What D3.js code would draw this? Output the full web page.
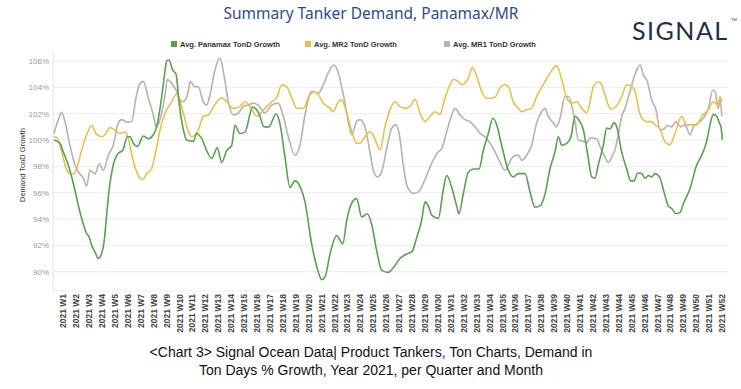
<!DOCTYPE html>
<html>
<head>
<meta charset="utf-8">
<script src="https://cdn.jsdelivr.net/npm/d3@7"></script>
<style>
  body { margin: 0; background: #fff; }
  svg { display: block; }
</style>
</head>
<body>
<div id="chart"></div>
<script>

// week labels along the bottom
var weeks = d3.range(1, 53).map(function(w) { return "2021 W" + w; });
var yTicks = [90, 92, 94, 96, 98, 100, 102, 104, 106];

// [week position, % growth]
var panamax = [[0.30,100.0],[0.77,99.75],[1.02,99.1],[1.41,98.1],[1.80,96.7],[2.32,94.5],[2.83,92.9],[3.04,92.6],[3.22,92.0],[3.48,91.5],[3.73,91.0],[3.92,91.2],[4.17,92.2],[4.38,94.3],[4.58,96.3],[4.89,98.1],[5.28,99.0],[5.62,99.2],[5.98,100.25],[6.19,100.25],[6.44,99.75],[6.75,99.5],[7.22,100.3],[7.60,100.1],[7.99,100.4],[8.25,101.0],[8.51,102.4],[8.76,104.2],[9.03,106.0],[9.20,106.1],[9.49,105.3],[9.75,105.0],[10.00,102.7],[10.31,100.8],[10.57,100.0],[11.09,99.9],[11.35,100.5],[11.74,100.1],[12.12,99.2],[12.51,98.6],[12.94,99.4],[13.28,98.3],[13.67,99.2],[14.06,99.6],[14.31,101.1],[14.70,100.5],[15.09,100.6],[15.67,102.5],[16.17,102.0],[16.56,101.0],[16.94,101.0],[17.49,102.0],[17.80,101.2],[18.18,98.7],[18.57,96.4],[18.96,96.9],[19.42,96.3],[19.73,95.3],[20.25,92.1],[20.64,90.4],[21.02,89.4],[21.28,89.6],[21.67,91.35],[22.18,92.75],[22.44,92.4],[22.65,92.1],[22.96,93.9],[23.35,95.2],[23.73,95.55],[24.12,94.15],[24.55,94.4],[24.89,93.6],[25.28,91.6],[25.67,90.1],[26.18,89.95],[26.56,90.3],[27.08,91.0],[27.60,91.35],[27.99,91.5],[28.38,92.6],[28.76,93.9],[29.02,95.3],[29.27,95.0],[29.54,94.3],[30.05,94.05],[30.43,96.2],[30.70,97.3],[31.09,96.4],[31.47,95.0],[31.65,94.4],[31.98,95.9],[32.37,97.55],[32.76,97.8],[33.20,97.8],[33.53,99.2],[33.92,100.5],[34.28,101.65],[34.57,101.15],[34.95,99.6],[35.47,97.7],[35.85,97.2],[36.24,97.45],[36.76,97.45],[37.15,96.05],[37.53,94.9],[37.92,95.0],[38.31,95.9],[38.69,97.8],[39.08,99.1],[39.34,100.25],[39.60,99.6],[39.99,99.75],[40.32,100.25],[40.63,101.8],[40.94,101.5],[41.27,100.8],[41.66,98.6],[41.92,97.2],[42.18,97.1],[42.43,98.1],[42.82,99.6],[43.08,100.9],[43.34,100.85],[43.65,101.3],[43.86,101.0],[44.24,99.1],[44.63,97.8],[44.94,96.9],[45.20,96.9],[45.48,97.5],[45.79,97.45],[46.05,97.1],[46.30,97.3],[46.56,97.2],[46.82,97.45],[47.21,97.1],[47.52,96.05],[47.85,95.0],[48.11,94.8],[48.45,94.4],[48.76,94.5],[49.01,95.15],[49.53,96.3],[50.05,98.1],[50.44,98.85],[50.82,99.9],[51.08,101.15],[51.33,101.95],[51.60,101.8],[51.80,101.3],[51.93,101.0],[52.03,100.0]];

var mr2 = [[0.30,100.25],[0.51,100.2],[0.90,99.1],[1.23,97.85],[1.54,97.45],[1.80,97.4],[2.06,97.85],[2.45,99.25],[2.83,100.4],[3.22,101.1],[3.61,100.4],[4.00,100.25],[4.25,100.4],[4.64,100.95],[5.02,100.75],[5.41,100.5],[5.80,100.6],[6.05,100.15],[6.39,98.6],[6.83,97.3],[7.17,97.0],[7.48,97.45],[7.87,97.85],[8.12,98.85],[8.51,100.75],[8.90,102.05],[9.41,102.9],[9.80,103.5],[10.31,102.05],[10.70,100.65],[10.96,100.25],[11.47,100.75],[11.86,101.8],[12.25,101.9],[12.63,102.5],[13.28,103.2],[13.67,102.9],[14.18,102.4],[14.70,102.55],[15.09,102.9],[15.47,102.55],[15.99,101.8],[16.63,102.4],[17.15,102.9],[17.54,103.2],[17.93,104.2],[18.31,104.05],[18.70,103.2],[19.09,102.4],[19.60,102.4],[19.99,103.2],[20.37,103.65],[20.76,103.45],[21.15,102.8],[21.67,102.4],[21.92,102.15],[22.31,102.9],[22.57,103.05],[22.96,102.05],[23.35,100.65],[23.73,99.75],[23.99,99.75],[24.37,100.25],[24.76,100.65],[25.07,100.25],[25.54,99.25],[25.92,101.0],[26.31,102.3],[26.70,102.9],[27.08,102.55],[27.47,102.4],[27.86,102.55],[28.24,103.1],[28.63,102.05],[29.02,101.4],[29.41,101.8],[29.79,102.15],[30.18,101.95],[30.57,103.2],[30.95,104.2],[31.21,104.6],[31.60,104.45],[31.86,104.2],[32.37,104.7],[32.68,105.5],[33.02,104.85],[33.41,103.7],[33.79,103.15],[34.44,103.25],[34.82,103.95],[35.16,104.2],[35.47,104.05],[35.85,102.9],[36.24,102.4],[36.50,102.15],[36.89,102.3],[37.28,102.4],[37.66,103.3],[38.17,104.2],[38.56,104.85],[39.21,105.65],[39.60,104.6],[39.99,103.2],[40.37,102.8],[40.76,102.9],[41.15,102.4],[41.54,102.05],[41.80,102.9],[42.05,104.05],[42.44,104.4],[42.70,104.2],[42.95,103.45],[43.21,102.65],[43.47,102.35],[43.80,102.55],[44.24,103.3],[44.63,104.2],[44.89,104.15],[45.27,103.7],[45.61,102.15],[45.79,101.65],[46.18,101.4],[46.56,101.4],[46.82,101.15],[47.21,100.85],[47.60,99.85],[47.98,99.65],[48.37,100.5],[48.89,101.8],[49.27,101.15],[49.66,101.15],[50.05,101.15],[50.44,101.8],[50.95,102.3],[51.33,102.9],[51.72,102.65],[51.85,103.3],[52.0,102.9]];

var mr1 = [[0.30,100.5],[0.64,101.55],[0.90,102.1],[1.15,101.4],[1.54,99.6],[1.93,98.1],[2.18,97.6],[2.57,97.1],[2.83,96.5],[3.09,97.7],[3.48,97.45],[3.81,98.2],[4.12,97.7],[4.51,98.85],[4.89,99.6],[5.28,101.3],[5.54,101.55],[5.93,101.35],[6.32,101.4],[6.65,103.2],[6.96,104.3],[7.22,104.45],[7.60,103.2],[7.99,101.9],[8.20,101.0],[8.51,101.55],[8.90,103.45],[9.07,104.6],[9.41,104.3],[9.75,103.8],[10.06,103.05],[10.31,102.9],[10.70,103.7],[10.83,104.45],[11.22,104.05],[11.47,104.05],[11.86,102.9],[12.12,102.65],[12.38,103.45],[12.77,105.35],[13.15,106.25],[13.41,105.2],[13.80,102.9],[14.18,101.9],[14.57,102.05],[14.96,102.55],[15.34,102.65],[15.73,102.8],[16.12,102.65],[16.63,102.05],[17.15,102.65],[17.66,102.8],[18.05,101.8],[18.44,100.25],[18.96,98.85],[19.34,99.6],[19.73,101.9],[20.25,103.7],[20.76,103.55],[21.15,104.2],[21.53,105.1],[21.97,105.7],[22.31,105.1],[22.70,103.45],[23.08,101.4],[23.35,100.4],[23.73,101.4],[23.99,101.55],[24.37,101.0],[24.71,99.35],[25.02,97.7],[25.33,97.2],[25.67,97.6],[26.05,99.35],[26.44,100.9],[26.77,101.15],[27.08,100.15],[27.34,98.1],[27.65,96.45],[28.11,95.95],[28.50,96.05],[28.89,96.7],[29.27,97.6],[29.66,98.5],[30.05,99.1],[30.31,99.35],[30.70,100.65],[31.09,101.9],[31.34,102.4],[31.73,101.9],[32.11,101.55],[32.50,101.4],[32.89,101.0],[33.28,100.5],[33.66,100.25],[34.05,99.75],[34.44,99.1],[34.82,98.35],[35.21,97.7],[35.47,98.1],[35.85,98.75],[36.24,98.85],[36.50,98.45],[36.89,98.85],[37.28,99.6],[37.66,101.3],[38.05,102.15],[38.31,102.4],[38.56,101.8],[38.95,101.3],[39.21,101.0],[39.47,101.65],[39.86,103.3],[40.11,103.3],[40.37,102.65],[40.63,101.4],[40.89,100.0],[41.27,99.9],[41.54,99.8],[41.80,100.15],[42.31,100.1],[42.57,99.5],[42.95,98.7],[43.21,98.3],[43.47,98.7],[43.72,99.25],[43.98,100.4],[44.24,101.8],[44.50,102.4],[44.89,103.7],[45.27,104.95],[45.66,105.7],[45.92,104.95],[46.23,104.45],[46.56,103.05],[46.90,102.3],[47.21,100.75],[47.52,100.85],[47.77,101.1],[48.11,101.0],[48.45,101.4],[48.81,101.0],[49.14,101.15],[49.53,100.4],[49.79,101.0],[50.18,101.3],[50.56,101.65],[50.95,102.4],[51.29,103.8],[51.47,103.7],[51.72,102.4],[51.85,103.05],[52.0,101.8]];

var seriesNames = ["Avg. Panamax TonD Growth", "Avg. MR2 TonD Growth", "Avg. MR1 TonD Growth"];
var seriesColors = ["#59a14f", "#e9c04c", "#bab0ac"];
var seriesData = [panamax, mr2, mr1];

var width = 741, height = 389;
var plotLeft = 53, plotRight = 728, plotTop = 52, plotBottom = 291;

var svg = d3.select("#chart")
  .append("svg")
  .attr("width", width)
  .attr("height", height);

var x = d3.scaleLinear().domain([1, 52]).range([63, 721.9]);
var y = d3.scaleLinear().domain([90, 106]).range([271.7, 61]);

// gridlines
svg.append("g")
  .selectAll("line")
  .data(yTicks)
  .enter()
  .append("line")
  .attr("x1", plotLeft)
  .attr("x2", plotRight)
  .attr("y1", function(d) { return y(d); })
  .attr("y2", function(d) { return y(d); })
  .style("stroke", "#ececec")
  .style("stroke-width", 1);

// y axis
var yAxis = svg.append("g")
  .attr("transform", "translate(" + plotLeft + ",0)")
  .call(d3.axisLeft(y).tickValues(yTicks).tickSize(0).tickPadding(4)
    .tickFormat(function(d) { return d + "%"; }));
yAxis.select(".domain").remove();
yAxis.selectAll("text")
  .style("font-family", "Liberation Sans, Arial, sans-serif")
  .style("font-size", "8px")
  .style("fill", "#9a9a9a");

svg.append("line")
  .attr("x1", plotLeft).attr("x2", plotLeft)
  .attr("y1", plotTop).attr("y2", plotBottom)
  .style("stroke", "#e2e2e2");

svg.append("line")
  .attr("x1", plotLeft).attr("x2", plotRight)
  .attr("y1", plotBottom).attr("y2", plotBottom)
  .style("stroke", "#f0f0f0");

svg.append("text")
  .attr("transform", "translate(25," + 165 + ") rotate(-90)")
  .attr("text-anchor", "middle")
  .style("font-family", "Liberation Sans, Arial, sans-serif")
  .style("font-size", "7.5px")
  .style("fill", "#333")
  .text("Demand TonD Growth");

// x axis labels, one per week
var xb = d3.scalePoint().domain(weeks).range([63, 721.9]);
var xAxis = svg.append("g")
  .attr("transform", "translate(0," + plotBottom + ")")
  .call(d3.axisBottom(xb).tickSize(0).tickPadding(0));
xAxis.select(".domain").remove();
xAxis.selectAll("text")
  .attr("transform", "rotate(-90)")
  .attr("x", -3)
  .attr("y", 0)
  .attr("dy", "0.32em")
  .attr("text-anchor", "end")
  .style("font-family", "Liberation Sans, Arial, sans-serif")
  .style("font-size", "8.5px")
  .style("font-weight", "bold")
  .style("fill", "#444");

// lines (gray drawn first, green on top)
var line = d3.line()
  .x(function(d) { return x(d[0]); })
  .y(function(d) { return y(d[1]); })
  .curve(d3.curveMonotoneX);

svg.append("g")
  .selectAll("path")
  .data([2, 1, 0])
  .enter()
  .append("path")
  .attr("d", function(i) { return line(seriesData[i]); })
  .style("fill", "none")
  .style("stroke", function(i) { return seriesColors[i]; })
  .style("stroke-width", 1.6)
  .style("stroke-linejoin", "round");

// title
svg.append("text")
  .attr("x", 371)
  .attr("y", 19)
  .attr("text-anchor", "middle")
  .style("font-family", "Noto Sans, Open Sans, sans-serif")
  .style("font-size", "15.5px")
  .style("fill", "#2d4b8e")
  .text("Summary Tanker Demand, Panamax/MR");

// legend
var legendX = [171, 305, 444];
var leg = svg.append("g")
  .selectAll("g")
  .data(seriesNames)
  .enter()
  .append("g")
  .attr("transform", function(d, i) { return "translate(" + legendX[i] + ",41)"; });
leg.append("rect")
  .attr("width", 6).attr("height", 6)
  .style("fill", function(d, i) { return seriesColors[i]; });
leg.append("text")
  .attr("x", 9).attr("y", 6)
  .style("font-family", "Liberation Sans, Arial, sans-serif")
  .style("font-size", "7.5px")
  .style("font-weight", "bold")
  .style("fill", "#333")
  .text(function(d) { return d; });

// logo
svg.append("text")
  .attr("x", 632)
  .attr("y", 40)
  .style("font-family", "Lato, Noto Sans, sans-serif")
  .style("font-size", "25px")
  .style("letter-spacing", "1.5px")
  .style("fill", "#1e3049")
  .text("SIGNAL");
svg.append("text")
  .attr("x", 731)
  .attr("y", 21)
  .style("font-family", "Liberation Sans, Arial, sans-serif")
  .style("font-size", "4px")
  .style("fill", "#1e3049")
  .text("TM");

// caption
var caption = ["<Chart 3> Signal Ocean Data| Product Tankers, Ton Charts, Demand in",
  "Ton Days % Growth, Year 2021, per Quarter and Month"];
svg.append("g")
  .selectAll("text")
  .data(caption)
  .enter()
  .append("text")
  .attr("x", 371)
  .attr("y", function(d, i) { return 357 + i * 18; })
  .attr("text-anchor", "middle")
  .style("font-family", "Liberation Sans, Arial, sans-serif")
  .style("font-size", "14px")
  .style("fill", "#111")
  .text(function(d) { return d; });

</script>
</body>
</html>
